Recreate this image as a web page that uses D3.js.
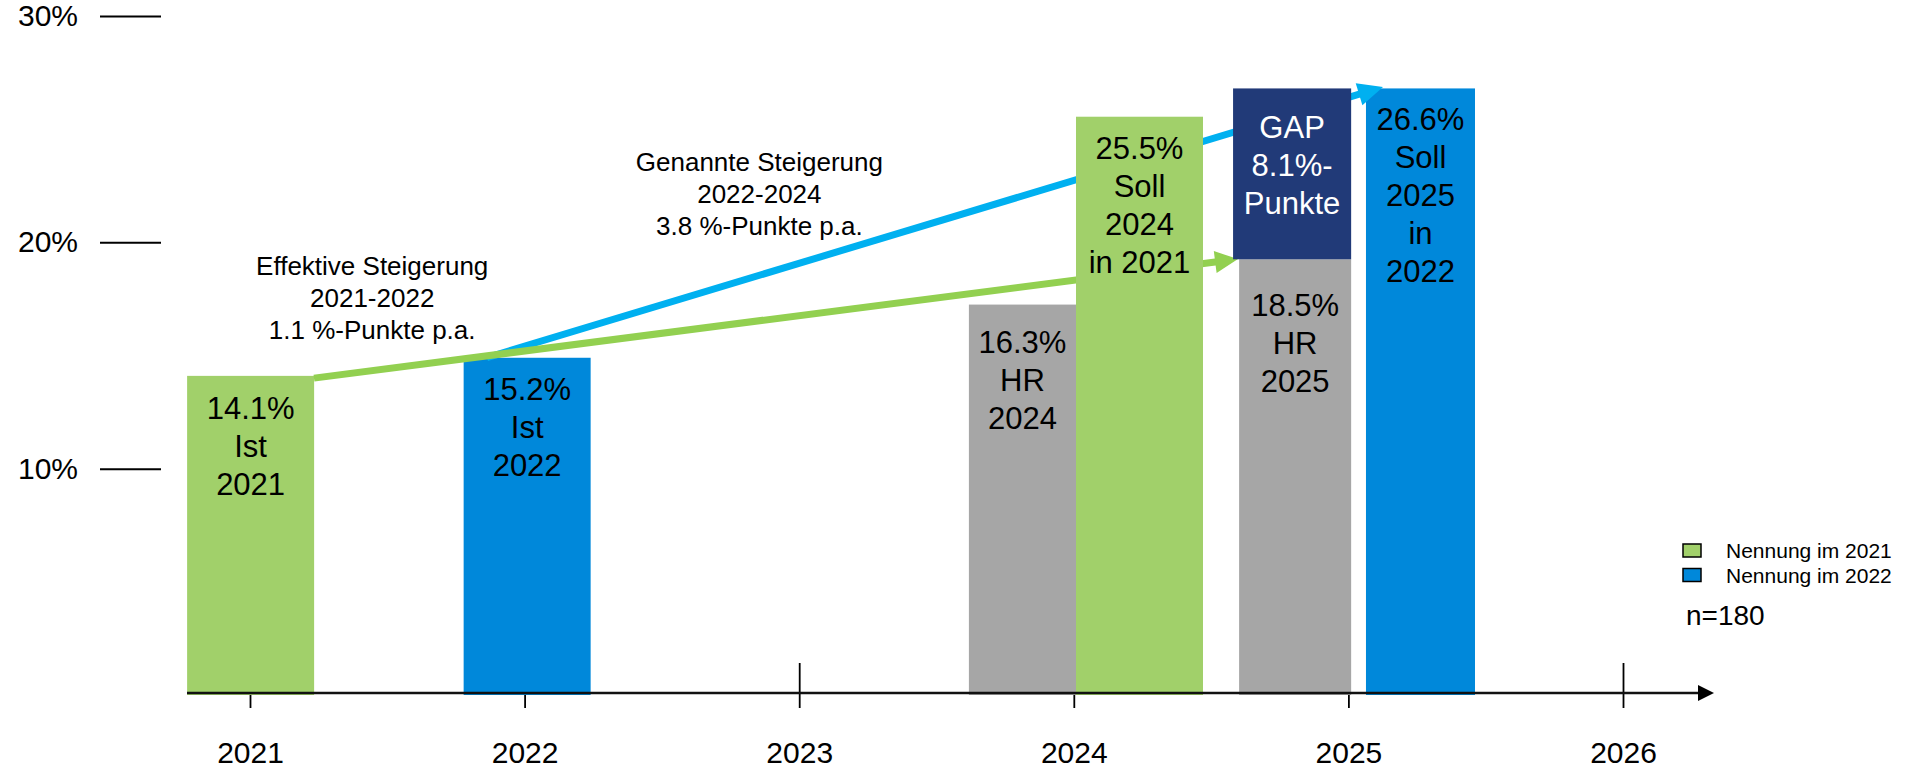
<!DOCTYPE html>
<html>
<head>
<meta charset="utf-8">
<script src="https://cdn.jsdelivr.net/npm/d3@7"></script>
<style>
  body { margin: 0; background: #fff; }
  svg text { font-family: "Liberation Sans", Arial, sans-serif; fill: #000; }
</style>
</head>
<body>
<svg id="chart" width="1915" height="768"></svg>
<script>
// ---- data ----
var years = [2021, 2022, 2023, 2024, 2025, 2026];
var yTicks = [10, 20, 30];

// bar ends as the bars show them against the axis (the source graphic is not exactly to scale)
var barNames  = ['Ist 2021', 'Ist 2022', 'HR 2024', 'Soll 2024', 'HR 2025', 'GAP 2025', 'Soll 2025'];
var barYears  = [2021, 2022, 2024, 2024, 2025, 2025, 2025];
var barFrom   = [0, 0, 0, 0, 0, 19.25, 0];
var barTo     = [14.1, 14.9, 17.25, 25.55, 19.25, 26.8, 26.8];
var barGroups = ['2021', '2022', 'hr', '2021', 'hr', 'gap', '2022'];
var barTexts  = [
  ['14.1%', 'Ist', '2021'],
  ['15.2%', 'Ist', '2022'],
  ['16.3%', 'HR', '2024'],
  ['25.5%', 'Soll', '2024', 'in 2021'],
  ['18.5%', 'HR', '2025'],
  ['GAP', '8.1%-', 'Punkte'],
  ['26.6%', 'Soll', '2025', 'in', '2022']
];

var legendNames  = ['Nennung im 2021', 'Nennung im 2022'];
var legendGroups = ['2021', '2022'];
var sampleNote = 'n=180';

// trend arrows: [year, percent]
var trendFrom  = [[2021.233, 14.0], [2021.863, 14.91]];
var trendTo    = [[2024.598, 19.26], [2025.126, 26.86]];
var trendTexts = [
  ['Effektive Steigerung', '2021-2022', '1.1 %-Punkte p.a.'],
  ['Genannte Steigerung', '2022-2024', '3.8 %-Punkte p.a.']
];

// ---- layout / style ----
var colors = { '2021': '#a1d06a', '2022': '#0088da', hr: '#a6a6a6', gap: '#213a78' };
var trendColors = ['#92d050', '#00b0f0'];
var barShift = [-0.229, -0.222, -0.382, 0.008, -0.398, -0.420, 0.064]; // left edge, in years
var barWidth = [0.4625, 0.4625, 0.390, 0.4625, 0.408, 0.430, 0.397];
var barTextGap = [32, 31, 38, 31, 46, 39, 31];
var barFront = [false, false, false, true, true, true, false];
var trendTextAt = [[2021.445, 18.95], [2022.855, 23.55]];
var trendHead = [[23, 11], [25, 11.5]];
var trendOrder = [1, 0]; // blue runs under the green line

var svg = d3.select('#chart');
var x = d3.scaleLinear().domain([2021, 2026]).range([250, 1623]);
var y = d3.scaleLinear().domain([0, 30]).range([695, 16]);
var axisY = 693;

// y ticks (no axis line)
var yAxis = svg.append('g')
    .attr('transform', 'translate(161,0)')
    .call(d3.axisLeft(y).tickValues(yTicks).tickSize(61).tickPadding(22).tickFormat(function(d){ return d + '%'; }));
yAxis.select('.domain').remove();
yAxis.selectAll('line').attr('stroke', '#000').attr('stroke-width', 2);
yAxis.selectAll('text').attr('font-size', 30).attr('font-family', '"Liberation Sans", Arial, sans-serif').attr('fill', '#000');

// x ticks and year labels
var xAxis = svg.append('g')
    .attr('transform', 'translate(0,' + axisY + ')')
    .call(d3.axisBottom(x).tickValues(years).tickSize(15).tickSizeOuter(0).tickPadding(34).tickFormat(d3.format('d')));
xAxis.select('.domain').remove();
xAxis.selectAll('line').attr('y1', -30).attr('stroke', '#000').attr('stroke-width', 1.8);
xAxis.selectAll('text').attr('font-size', 30).attr('font-family', '"Liberation Sans", Arial, sans-serif').attr('fill', '#000');

var back = svg.append('g');
var arrows = svg.append('g');
var front = svg.append('g');
var labels = svg.append('g');

// bars
barNames.forEach(function(name, i) {
  var layer = barFront[i] ? front : back;
  var x0 = x(barYears[i] + barShift[i]);
  var x1 = x(barYears[i] + barShift[i] + barWidth[i]);
  layer.append('rect')
      .attr('class', 'bar')
      .attr('x', x0)
      .attr('y', y(barTo[i]))
      .attr('width', x1 - x0)
      .attr('height', y(barFrom[i]) - y(barTo[i]))
      .attr('fill', colors[barGroups[i]]);

  var cx = (x0 + x1) / 2;
  barTexts[i].forEach(function(line, j) {
    labels.append('text')
        .attr('x', cx)
        .attr('y', y(barTo[i]) + barTextGap[i] + j * 38)
        .attr('dy', '0.35em')
        .attr('text-anchor', 'middle')
        .attr('font-size', 31)
        .style('fill', barGroups[i] == 'gap' ? '#fff' : '#000')
        .text(line);
  });
});

// trend arrows
trendOrder.forEach(function(i) {
  var from = trendFrom[i];
  var p0 = [x(from[0]), y(from[1])];
  var p1 = [x(trendTo[i][0]), y(trendTo[i][1])];
  var dx = p1[0] - p0[0], dy = p1[1] - p0[1];
  var len = Math.sqrt(dx * dx + dy * dy);
  var ux = dx / len, uy = dy / len;
  var headLen = trendHead[i][0], headHalf = trendHead[i][1];
  var bx = p1[0] - ux * headLen, by = p1[1] - uy * headLen;
  arrows.append('line')
      .attr('x1', p0[0]).attr('y1', p0[1])
      .attr('x2', bx + ux * 2).attr('y2', by + uy * 2)
      .attr('stroke', trendColors[i])
      .attr('stroke-width', 7);
  arrows.append('polygon')
      .attr('points', [
        [p1[0], p1[1]],
        [bx - uy * headHalf, by + ux * headHalf],
        [bx + uy * headHalf, by - ux * headHalf]
      ].map(function(p){ return p.join(','); }).join(' '))
      .attr('fill', trendColors[i]);
});

trendTexts.forEach(function(lines, i) {
  lines.forEach(function(line, j) {
    labels.append('text')
        .attr('x', x(trendTextAt[i][0]))
        .attr('y', y(trendTextAt[i][1]) + j * 32)
        .attr('dy', '0.35em')
        .attr('text-anchor', 'middle')
        .attr('font-size', 26)
        .text(line);
  });
});

// x axis line with arrow
svg.append('line')
    .attr('x1', 187).attr('y1', axisY)
    .attr('x2', 1700).attr('y2', axisY)
    .attr('stroke', '#111')
    .attr('stroke-width', 2.7);
svg.append('polygon')
    .attr('points', '1698,685 1714,' + axisY + ' 1698,701')
    .attr('fill', '#000');

// legend
legendNames.forEach(function(name, i) {
  svg.append('rect')
      .attr('x', 1683).attr('y', 544 + i * 24.5)
      .attr('width', 18).attr('height', 13)
      .attr('fill', colors[legendGroups[i]])
      .attr('stroke', '#000')
      .attr('stroke-width', 1.5);
  svg.append('text')
      .attr('x', 1726).attr('y', 551 + i * 24.5)
      .attr('dy', '0.35em')
      .attr('font-size', 21)
      .text(name);
});
svg.append('text')
    .attr('x', 1686).attr('y', 615)
    .attr('dy', '0.35em')
    .attr('font-size', 28)
    .text(sampleNote);
</script>
</body>
</html>
